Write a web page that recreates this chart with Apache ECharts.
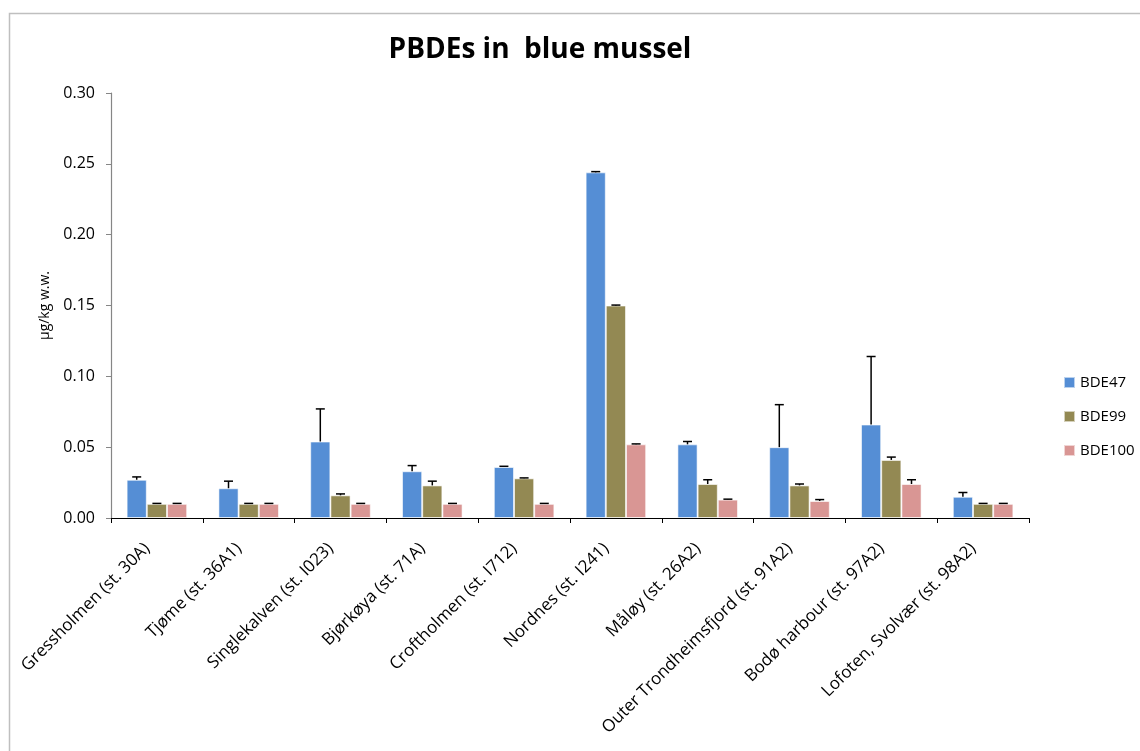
<!DOCTYPE html>
<html>
<head>
<meta charset="utf-8">
<script src="https://cdn.jsdelivr.net/npm/echarts@6/dist/echarts.min.js"></script>
<style>
  html, body { margin: 0; padding: 0; background: #fff; }
  #chart { width: 1140px; height: 751px; }
</style>
</head>
<body>
<div id="chart"></div>
<script>
// stations
const categories = [
  'Gressholmen (st. 30A)', 'Tjøme (st. 36A1)', 'Singlekalven (st. I023)', 'Bjørkøya (st. 71A)',
  'Croftholmen (st. I712)', 'Nordnes (st. I241)', 'Måløy (st. 26A2)',
  'Outer Trondheimsfjord (st. 91A2)', 'Bodø harbour (st. 97A2)', 'Lofoten, Svolvær (st. 98A2)'
];
const seriesNames = ['BDE47', 'BDE99', 'BDE100'];
const bde47 = [0.027, 0.021, 0.054, 0.033, 0.036, 0.244, 0.052, 0.050, 0.066, 0.015];
const bde99 = [0.010, 0.010, 0.016, 0.023, 0.028, 0.150, 0.024, 0.023, 0.041, 0.010];
const bde100 = [0.010, 0.010, 0.010, 0.010, 0.010, 0.052, 0.013, 0.012, 0.024, 0.010];
// upper error (plus only)
const err47 = [0.002, 0.005, 0.023, 0.004, 0.0005, 0.0005, 0.002, 0.030, 0.048, 0.003];
const err99 = [0.0003, 0.0003, 0.001, 0.003, 0.0003, 0.0003, 0.003, 0.001, 0.002, 0.0003];
const err100 = [0.0003, 0.0003, 0.0003, 0.0003, 0.0003, 0.0003, 0.0003, 0.001, 0.003, 0.0003];
const yTicks = [0, 0.05, 0.10, 0.15, 0.20, 0.25, 0.30];

const colors = ['#558ED5', '#938953', '#D99694'];
const values = [bde47, bde99, bde100];
const errors = [err47, err99, err100];
const BAR_FRAC = 0.22;
const FONT = '"Open Sans", "Noto Sans", sans-serif';

const myChart = echarts.init(document.getElementById('chart'));

function errorSeries(k) {
  return {
    type: 'custom',
    name: seriesNames[k] + ' err',
    z: 10,
    silent: true,
    data: values[k].map((v, i) => [i, v, v + errors[k][i]]),
    renderItem: function (params, api) {
      const i = api.value(0);
      const band = api.size([1, 0])[0];
      const off = (k - 1) * band * BAR_FRAC;
      const lo = api.coord([i, api.value(1)]);
      const hi = api.coord([i, api.value(2)]);
      const x = lo[0] + off;
      const cap = 4.5;
      const style = { stroke: '#000', lineWidth: 1.5 };
      return {
        type: 'group',
        children: [
          { type: 'line', shape: { x1: x, y1: lo[1], x2: x, y2: hi[1] }, style: style },
          { type: 'line', shape: { x1: x - cap, y1: hi[1], x2: x + cap, y2: hi[1] }, style: style }
        ]
      };
    }
  };
}

const barSeries = seriesNames.map((name, k) => ({
  name: name,
  type: 'bar',
  data: values[k],
  barWidth: (BAR_FRAC * 100) + '%',
  barGap: '0%',
  itemStyle: { color: colors[k], borderColor: 'rgba(255,255,255,0.6)', borderWidth: 1 }
}));

const option = {
  animation: false,
  graphic: [{
    type: 'rect',
    shape: { x: 9.5, y: 13.5, width: 1140, height: 760 },
    style: { fill: 'none', stroke: '#BFBFBF', lineWidth: 1.5 },
    silent: true
  }],
  title: {
    text: 'PBDEs in  blue mussel',
    left: 535,
    textAlign: 'center',
    top: 31,
    textStyle: { fontFamily: FONT, fontSize: 28, fontWeight: 'bold', color: '#000' }
  },
  legend: {
    data: seriesNames,
    orient: 'vertical',
    left: 1058,
    top: 370,
    itemWidth: 11,
    itemHeight: 11,
    itemGap: 19,
    icon: 'rect',
    textStyle: { fontFamily: FONT, fontSize: 15, color: '#000' }
  },
  grid: { left: 111, right: 111, top: 93, bottom: 233, containLabel: false },
  xAxis: {
    type: 'category',
    data: categories,
    axisLine: { lineStyle: { color: '#000', width: 1.2 } },
    axisTick: { show: true, alignWithLabel: false, length: 5, lineStyle: { color: '#000' } },
    axisLabel: {
      rotate: 45,
      interval: 0,
      margin: 18,
      padding: [0, 14, 0, 0],
      fontFamily: FONT,
      fontSize: 17,
      color: '#000'
    }
  },
  yAxis: {
    type: 'value',
    min: yTicks[0],
    max: yTicks[yTicks.length - 1],
    interval: 0.05,
    name: 'µg/kg w.w.',
    nameLocation: 'middle',
    nameGap: 51,
    nameRotate: 90,
    nameTextStyle: { fontFamily: FONT, fontSize: 14, color: '#000' },
    axisLine: { show: true, lineStyle: { color: '#868686', width: 1.2 } },
    axisTick: { show: true, length: 5, lineStyle: { color: '#868686' } },
    splitLine: { show: false },
    axisLabel: {
      fontFamily: FONT,
      fontSize: 16,
      color: '#000',
      margin: 16,
      formatter: v => v.toFixed(2)
    }
  },
  series: barSeries.concat([0, 1, 2].map(errorSeries))
};

myChart.setOption(option);
</script>
</body>
</html>
